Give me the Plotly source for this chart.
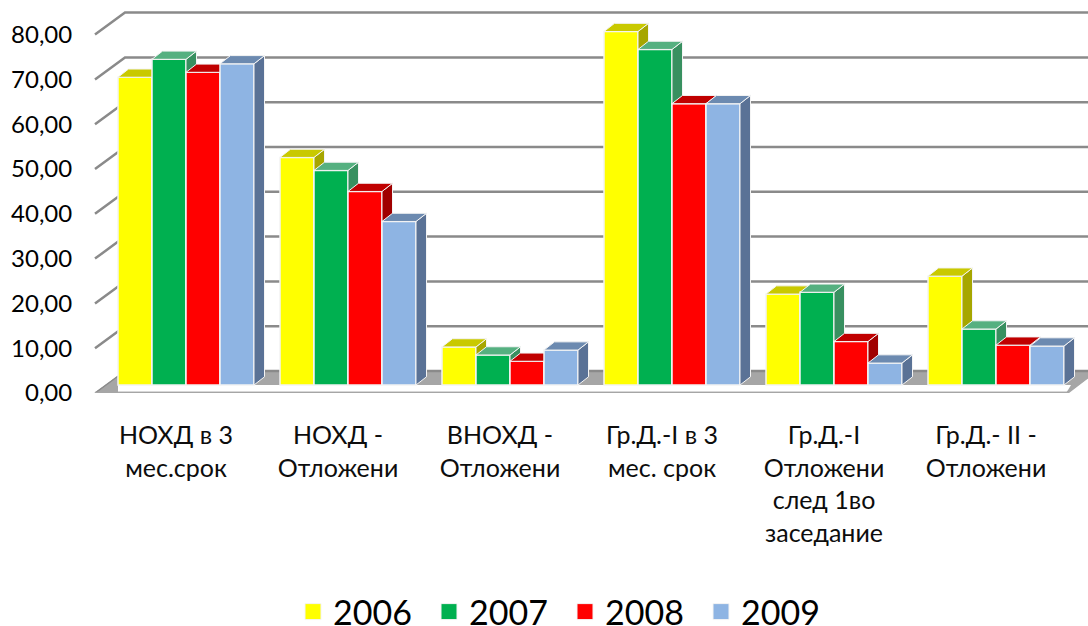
import plotly.graph_objects as go

categories = ["НОХД в 3<br>мес.срок", "НОХД -<br>Отложени", "ВНОХД -<br>Отложени",
              "Гр.Д.-I в 3<br>мес. срок", "Гр.Д.-I<br>Отложени<br>след 1во<br>заседание",
              "Гр.Д.- II -<br>Отложени"]
years = ["2006", "2007", "2008", "2009"]
v2006 = [68.7, 50.8, 8.5, 78.9, 20.3, 24.3]
v2007 = [72.7, 47.9, 6.7, 74.9, 20.7, 12.5]
v2008 = [69.8, 43.2, 5.3, 62.8, 9.7, 8.9]
v2009 = [71.7, 36.5, 7.8, 62.8, 4.9, 8.7]
series = [v2006, v2007, v2008, v2009]
front_cols = ["#FFFF00", "#00B050", "#FF0000", "#8EB4E3"]
top_cols = ["#C9C900", "#55B080", "#C00000", "#6C8AB0"]
side_cols = ["#A6A600", "#389060", "#A00000", "#5A7296"]
y_ticks = [0, 10, 20, 30, 40, 50, 60, 70, 80]

W, H = 1088, 626
ML, MB = 80, 233          # plot area ends at the front floor edge
PXU = 4.48                # pixels per value unit
XU = 162.0                # pixels per category
BAR = 34 / XU
BAR_SHIFT = 10 / XU       # bars stand further back than the axis plane
DX, DY = 10.5 / XU, 8.2 / PXU      # bar depth
WALL_DX, WALL_DY = 30 / XU, 22 / PXU   # wall depth
FLOOR_Y = 393
BAR_BASE = 385
GRID = "#8A8A8A"

x_of = lambda px: (px - 176) / XU
x_range = [x_of(ML), x_of(W)]
y_range = [0, FLOOR_Y / PXU]
y2_range = [-(FLOOR_Y - BAR_BASE) / PXU, BAR_BASE / PXU]

fig = go.Figure()

# floor
x0, x1 = x_of(95), x_of(1067)
fig.add_trace(go.Scatter(
    x=[x0, x0 + WALL_DX, x1 + WALL_DX, x1, x0],
    y=[0, WALL_DY, WALL_DY, 0, 0],
    mode="lines", fill="toself", fillcolor="#A6A6A6",
    line=dict(color="#A6A6A6", width=1), showlegend=False, hoverinfo="skip", cliponaxis=False))
fig.add_trace(go.Scatter(
    x=[x_of(118), x_of(1071), x1, x_of(118), x_of(118)],
    y=[(FLOOR_Y - BAR_BASE) / PXU, (FLOOR_Y - BAR_BASE) / PXU, 0.3, 0.3, (FLOOR_Y - BAR_BASE) / PXU],
    mode="lines", fill="toself", fillcolor="#FFFFFF",
    line=dict(color="#FFFFFF", width=0), showlegend=False, hoverinfo="skip", cliponaxis=False))
# walls / gridlines
for t in y_ticks:
    if t == 0:
        gx = [x_of(95), x_of(1067), x_of(1088)]
        gy = [0, 0, 16 / PXU]
        fig.add_trace(go.Scatter(x=[x0, x0 + WALL_DX], y=[0, WALL_DY], mode="lines",
                                 line=dict(color=GRID, width=1.5), showlegend=False,
                                 hoverinfo="skip", cliponaxis=False))
        fig.add_trace(go.Scatter(x=gx, y=gy, mode="lines", line=dict(color="#A6A6A6", width=2.5),
                                 showlegend=False, hoverinfo="skip", cliponaxis=False))
        fig.add_trace(go.Scatter(x=[x0 + WALL_DX, x_of(1088)], y=[WALL_DY, WALL_DY], mode="lines",
                                 line=dict(color=GRID, width=2.5), showlegend=False, hoverinfo="skip"))
    else:
        fig.add_trace(go.Scatter(x=[x0, x0 + WALL_DX, x_of(1088)],
                                 y=[t, t + WALL_DY, t + WALL_DY], mode="lines",
                                 line=dict(color=GRID, width=2.5), showlegend=False, hoverinfo="skip"))

# dummy trace so the primary y axis has tick labels and x axis has categories
fig.add_trace(go.Scatter(x=list(range(len(categories))), y=[0] * len(categories), mode="markers",
                         marker=dict(opacity=0, size=1), showlegend=False, hoverinfo="skip"))

# 3-D looking bars, painted left to right
z = 0
for s, (vals, name) in enumerate(zip(series, years)):
    xs = [i + BAR_SHIFT + (s - 1.5) * BAR for i in range(len(categories))]
    fig.add_trace(go.Bar(x=xs, y=vals, width=BAR, yaxis="y2", name=name,
                         marker=dict(color=front_cols[s], line=dict(color="#F4F4F4", width=1.5)),
                         showlegend=False, zorder=z))
    z += 1
    tx, ty, sx, sy = [], [], [], []
    for cx, v in zip(xs, vals):
        l, r = cx - BAR / 2, cx + BAR / 2
        tx += [l, r, r + DX, l + DX, l, None]
        ty += [v, v, v + DY, v + DY, v, None]
        sx += [r, r + DX, r + DX, r, r, None]
        sy += [0, DY, v + DY, v, 0, None]
    fig.add_trace(go.Scatter(x=sx, y=sy, yaxis="y2", mode="lines", fill="toself",
                             fillcolor=side_cols[s], line=dict(color="#F4F4F4", width=1),
                             showlegend=False, hoverinfo="skip", zorder=z, cliponaxis=False))
    fig.add_trace(go.Scatter(x=tx, y=ty, yaxis="y2", mode="lines", fill="toself",
                             fillcolor=top_cols[s], line=dict(color="#F4F4F4", width=1),
                             showlegend=False, hoverinfo="skip", zorder=z, cliponaxis=False))
    z += 1

# legend keys
for s, name in enumerate(years):
    fig.add_trace(go.Scatter(x=[None], y=[None], mode="markers", name=name,
                             marker=dict(symbol="square", size=18, color=front_cols[s],
                                         line=dict(color="#F4F4F4", width=1))))

fig.update_layout(
    width=W, height=H, autosize=False,
    margin=dict(l=ML, r=0, t=0, b=MB, pad=0, autoexpand=False),
    paper_bgcolor="white", plot_bgcolor="white",
    separators=", ",
    font=dict(family="Lato, 'Noto Sans', sans-serif", color="#0D0D0D"),
    barmode="overlay",
    xaxis=dict(range=x_range, tickmode="array", tickvals=list(range(len(categories))),
               ticktext=categories, showgrid=False, zeroline=False, showline=False,
               ticks="outside", ticklen=20, tickcolor="rgba(0,0,0,0)",
               tickangle=0, tickfont=dict(size=25)),
    yaxis=dict(range=y_range, tickmode="array", tickvals=y_ticks, tickformat=".2f",
               showgrid=False, zeroline=False, showline=False,
               ticks="outside", ticklen=2, tickcolor="rgba(0,0,0,0)",
               tickfont=dict(size=24, color="#000000")),
    yaxis2=dict(range=y2_range, overlaying="y", visible=False),
    showlegend=True,
    legend=dict(orientation="h", xref="container", x=293 / W, xanchor="left",
                yref="paper", y=(FLOOR_Y - 612) / FLOOR_Y, yanchor="middle",
                font=dict(size=34, color="#000000"), bgcolor="rgba(0,0,0,0)",
                entrywidth=91, entrywidthmode="pixels"),
)
fig.write_html("out.html", config=dict(displayModeBar=False),
               post_script="document.body.style.margin='0';")
